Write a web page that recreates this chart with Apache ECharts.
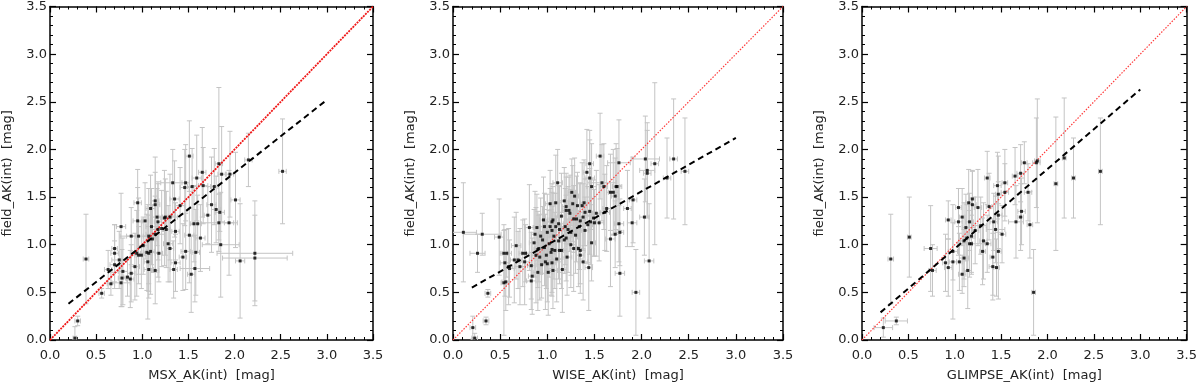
<!DOCTYPE html>
<html>
<head>
<meta charset="utf-8">
<script src="https://cdn.jsdelivr.net/npm/echarts@6/dist/echarts.min.js"></script>
<style>
  html, body { margin: 0; background: #fff; }
  #chart { width: 1200px; height: 387px; }
</style>
</head>
<body>
<div id="chart"></div>
<script>
// each point: [x, y, xErr, yErr]
const msxPoints = [
  [0.39,0.85,0.03,0.47],[0.27,0.02,0.02,0.12],[0.30,0.20,0.03,0.05],[0.56,0.49,0.03,0.05],
  [0.63,0.74,0.04,0.2],[0.66,0.59,0.04,0.12],[0.70,0.79,0.05,0.25],[0.70,0.91,0.04,0.3],
  [0.70,0.96,0.03,0.25],[0.77,1.19,0.05,0.35],[0.75,0.84,0.08,0.3],[0.77,0.60,0.1,0.25],
  [0.78,0.65,0.04,0.3],[0.79,0.72,0.05,0.35],[0.84,0.66,0.04,0.2],[0.88,1.09,0.05,0.3],
  [0.88,0.70,0.04,0.3],[0.92,0.77,0.05,0.35],[0.94,0.91,0.04,0.45],[0.95,1.25,0.05,0.35],
  [0.95,1.44,0.04,0.35],[0.96,1.09,0.2,0.4],[0.96,0.89,0.04,0.3],[1.01,0.99,0.05,0.3],
  [1.03,1.25,0.04,0.4],[1.07,1.09,0.06,0.5],[1.06,0.82,0.04,0.6],[1.07,0.74,0.05,0.3],
  [1.07,0.91,0.04,0.4],[1.09,1.38,0.05,0.35],[1.10,1.19,0.06,0.4],[1.09,0.93,0.04,0.45],
  [1.11,1.06,0.05,0.35],[1.14,1.46,0.04,0.3],[1.14,1.42,0.05,0.5],[1.14,1.11,0.1,0.4],
  [1.14,0.73,0.04,0.35],[1.16,1.29,0.05,0.3],[1.17,1.24,0.04,0.4],[1.17,1.16,0.06,0.5],
  [1.18,0.91,0.04,0.3],[1.21,1.17,0.05,0.4],[1.24,1.28,0.04,0.5],[1.25,1.29,0.07,0.4],
  [1.26,1.16,0.04,0.4],[1.28,1.01,0.05,0.4],[1.30,0.96,0.04,0.35],[1.30,1.29,0.08,0.45],
  [1.33,1.65,0.13,0.35],[1.34,0.74,0.04,0.3],[1.35,1.48,0.05,0.4],[1.36,1.14,0.04,0.3],
  [1.36,0.81,0.05,0.3],[1.41,1.41,0.05,0.4],[1.44,0.87,0.04,0.35],[1.46,1.60,0.05,0.4],
  [1.47,1.65,0.04,0.4],[1.47,0.93,0.05,0.4],[1.51,1.93,0.04,0.37],[1.51,1.10,0.05,0.5],
  [1.53,0.69,0.04,0.4],[1.54,1.61,0.05,0.4],[1.56,1.22,0.04,0.4],[1.57,0.75,0.16,0.35],
  [1.58,0.92,0.04,0.45],[1.59,1.70,0.05,0.45],[1.60,1.22,0.04,0.3],[1.63,1.07,0.05,0.35],
  [1.65,1.76,0.04,0.47],[1.66,1.62,0.05,0.4],[1.71,1.31,0.04,0.3],[1.75,1.42,0.05,0.5],
  [1.78,1.61,0.04,0.4],[1.80,1.37,0.05,0.35],[1.83,1.23,0.2,0.3],[1.83,1.85,0.04,0.8],
  [1.84,1.34,0.05,0.2],[1.85,1.00,0.2,0.55],[1.86,1.74,0.04,0.5],[1.94,1.23,0.05,0.55],
  [1.95,1.74,0.04,0.45],[2.01,1.47,0.05,0.5],[2.06,0.83,0.05,0.6],[2.15,1.89,0.04,0.28],
  [2.22,0.91,0.41,0.55],[2.22,0.86,0.35,0.45],[2.52,1.77,0.04,0.55],[0.87,0.64,0.04,0.3],
  [0.99,0.89,0.05,0.35],[1.05,0.92,0.04,0.4]
];

const wisePoints = [
  [0.11,1.13,0.14,0.52],[0.21,0.13,0.03,0.12],[0.23,0.02,0.03,0.05],[0.26,0.91,0.08,0.2],
  [0.31,1.11,0.2,0.22],[0.35,0.20,0.03,0.04],[0.37,0.49,0.03,0.04],[0.49,1.08,0.05,0.4],
  [0.54,0.91,0.04,0.3],[0.55,0.81,0.05,0.35],[0.54,0.60,0.03,0.55],[0.56,0.61,0.04,0.3],
  [0.57,0.91,0.05,0.25],[0.59,0.77,0.04,0.4],[0.60,0.75,0.05,0.3],[0.65,0.84,0.04,0.45],
  [0.67,0.99,0.05,0.35],[0.69,0.84,0.04,0.3],[0.71,0.77,0.05,0.4],[0.74,0.91,0.04,0.35],
  [0.76,0.82,0.05,0.45],[0.77,0.91,0.04,0.3],[0.81,1.18,0.05,0.45],[0.83,0.78,0.04,0.35],
  [0.83,0.62,0.05,0.3],[0.84,0.67,0.04,0.4],[0.86,1.02,0.05,0.35],[0.87,1.11,0.04,0.45],
  [0.88,0.89,0.05,0.5],[0.89,1.18,0.04,0.35],[0.90,0.71,0.05,0.4],[0.91,0.96,0.04,0.35],
  [0.92,0.87,0.05,0.45],[0.93,1.09,0.04,0.4],[0.94,0.79,0.05,0.35],[0.96,1.26,0.04,0.45],
  [0.97,1.19,0.05,0.35],[0.97,0.97,0.04,0.4],[0.98,0.82,0.05,0.5],[0.99,0.89,0.04,0.35],
  [1.00,1.13,0.05,0.4],[1.01,0.71,0.04,0.45],[1.02,1.01,0.05,0.35],[1.03,1.19,0.04,0.4],
  [1.03,1.43,0.05,0.35],[1.04,0.92,0.04,0.45],[1.05,1.24,0.05,0.4],[1.05,0.81,0.04,0.35],
  [1.06,0.73,0.05,0.4],[1.06,1.26,0.04,0.35],[1.07,1.09,0.05,0.45],[1.08,0.94,0.04,0.4],
  [1.09,1.19,0.05,0.35],[1.09,1.44,0.04,0.5],[1.11,1.65,0.05,0.35],[1.12,1.04,0.04,0.4],
  [1.13,1.16,0.05,0.45],[1.13,0.94,0.04,0.35],[1.15,0.94,0.05,0.4],[1.16,0.74,0.04,0.45],
  [1.18,1.46,0.05,0.35],[1.19,1.19,0.04,0.4],[1.20,1.07,0.05,0.45],[1.20,1.36,0.04,0.35],
  [1.21,0.87,0.05,0.4],[1.22,1.16,0.04,0.45],[1.23,1.36,0.05,0.35],[1.24,1.33,0.04,0.4],
  [1.25,1.13,0.05,0.45],[1.26,1.55,0.04,0.35],[1.27,1.43,0.05,0.4],[1.28,0.96,0.04,0.45],
  [1.28,1.27,0.05,0.35],[1.29,1.51,0.04,0.4],[1.31,1.27,0.05,0.45],[1.32,1.41,0.04,0.35],
  [1.33,0.96,0.05,0.4],[1.34,1.19,0.04,0.45],[1.35,0.94,0.05,0.35],[1.35,0.89,0.04,0.4],
  [1.37,1.41,0.05,0.45],[1.38,1.29,0.04,0.35],[1.38,0.82,0.05,0.4],[1.39,1.44,0.04,0.45],
  [1.40,1.34,0.05,0.35],[1.42,1.76,0.04,0.45],[1.43,1.21,0.05,0.4],[1.44,0.76,0.04,0.45],
  [1.45,1.70,0.05,0.4],[1.45,1.85,0.04,0.35],[1.46,1.24,0.05,0.45],[1.47,1.02,0.04,0.4],
  [1.47,1.61,0.05,0.45],[1.49,1.28,0.04,0.4],[1.50,1.23,0.05,0.35],[1.52,1.33,0.04,0.45],
  [1.55,1.23,0.05,0.4],[1.56,1.93,0.04,0.45],[1.58,1.65,0.15,0.4],[1.60,1.61,0.04,0.45],
  [1.61,1.34,0.05,0.4],[1.63,1.38,0.04,0.45],[1.67,1.06,0.05,0.5],[1.67,1.55,0.04,0.4],
  [1.70,1.55,0.05,0.45],[1.72,1.51,0.04,0.4],[1.72,1.11,0.05,0.35],[1.73,1.61,0.04,0.45],
  [1.74,1.61,0.05,0.4],[1.76,1.86,0.12,0.45],[1.76,1.22,0.05,0.4],[1.77,1.13,0.04,0.35],
  [1.77,0.70,0.05,0.45],[1.85,1.38,0.04,0.4],[1.90,1.23,0.05,0.25],[1.91,1.47,0.04,0.45],
  [1.94,0.50,0.04,0.45],[2.03,1.29,0.05,0.4],[2.04,1.90,0.15,0.45],[2.06,1.78,0.08,0.5],
  [2.06,1.75,0.04,0.45],[2.08,0.83,0.05,0.6],[2.14,1.85,0.04,0.85],[2.27,1.70,0.04,0.42],
  [2.34,1.90,0.04,0.63],[2.46,1.77,0.04,0.56],
  [1.00,0.80,0.05,0.4],[1.05,0.95,0.04,0.45],[1.12,1.22,0.05,0.4],[1.18,1.05,0.04,0.35],
  [1.25,1.00,0.05,0.45],[1.30,1.10,0.04,0.4],[0.95,1.05,0.05,0.35],[1.15,1.30,0.04,0.45],
  [1.35,1.25,0.05,0.4],[1.40,1.15,0.04,0.35],[1.10,0.85,0.05,0.45],[0.90,0.95,0.04,0.4],
  [1.45,1.35,0.05,0.45],[1.20,1.40,0.04,0.35],[1.05,1.15,0.05,0.4]
];

const glimpsePoints = [
  [0.23,0.13,0.1,0.1],[0.31,0.85,0.03,0.47],[0.37,0.20,0.12,0.04],[0.51,1.08,0.02,0.42],
  [0.74,0.96,0.07,0.45],[0.76,0.73,0.04,0.27],[0.90,0.81,0.03,0.3],[0.93,0.76,0.04,0.3],
  [0.93,1.26,0.03,0.2],[0.98,0.82,0.04,0.6],[1.04,1.39,0.03,0.2],[1.04,1.24,0.04,0.35],
  [1.05,0.82,0.03,0.3],[1.08,0.69,0.04,0.2],[1.08,1.29,0.03,0.3],[1.10,1.04,0.04,0.4],
  [1.13,1.07,0.03,0.35],[1.14,0.73,0.04,0.4],[1.15,1.44,0.03,0.35],[1.16,1.24,0.04,0.3],
  [1.16,1.01,0.03,0.35],[1.18,1.09,0.04,0.4],[1.19,1.48,0.03,0.3],[1.19,1.42,0.04,0.35],
  [1.18,1.01,0.15,0.3],[1.25,1.39,0.04,0.4],[1.30,0.93,0.03,0.35],[1.31,1.04,0.04,0.4],
  [1.35,1.70,0.03,0.28],[1.35,1.01,0.04,0.3],[1.37,1.40,0.03,0.35],[1.41,0.77,0.04,0.35],
  [1.41,0.87,0.03,0.4],[1.42,1.24,0.04,0.3],[1.44,1.16,0.1,0.35],[1.45,0.76,0.03,0.3],
  [1.46,1.62,0.04,0.35],[1.47,1.53,0.03,0.4],[1.47,1.31,0.04,0.35],[1.47,0.93,0.03,0.5],
  [1.51,1.11,0.04,0.3],[1.54,1.65,0.03,0.35],[1.54,1.55,0.04,0.3],[1.65,1.72,0.03,0.3],
  [1.66,1.24,0.08,0.38],[1.71,1.75,0.04,0.3],[1.71,1.29,0.03,0.35],[1.72,1.35,0.04,0.35],
  [1.75,1.86,0.03,0.22],[1.79,1.55,0.04,0.3],[1.81,1.21,0.03,0.35],[1.88,1.86,0.04,0.47],
  [1.89,1.88,0.03,0.65],[1.85,0.50,0.02,0.45],[2.09,1.64,0.02,0.7],[2.18,1.91,0.02,0.63],
  [2.28,1.70,0.02,0.42],[2.57,1.77,0.02,0.56],
  [1.10,0.86,0.05,0.3],[1.22,1.15,0.04,0.35],[1.28,1.20,0.06,0.3],[1.12,1.18,0.04,0.35],
  [0.98,0.93,0.05,0.3]
];

// fitted lines, two end points each
const msxFit = [[0.2, 0.38], [3.0, 2.52]];
const wiseFit = [[0.2, 0.55], [3.0, 2.12]];
const glimpseFit = [[0.2, 0.29], [3.0, 2.63]];
const oneToOne = [[0, 0], [3.5, 3.5]];

const xNames = ['MSX_AK(int)  [mag]', 'WISE_AK(int)  [mag]', 'GLIMPSE_AK(int)  [mag]'];
const yName = 'field_AK(int)  [mag]';

const panels = [
  { points: msxPoints, fit: msxFit, left: 45, width: 328, red: { color: '#f01818', width: 1.8, type: [2, 1] } },
  { points: wisePoints, fit: wiseFit, left: 453, width: 330, red: { color: '#ff3a3a', width: 1.2, type: [1.5, 1.5] } },
  { points: glimpsePoints, fit: glimpseFit, left: 862, width: 329, red: { color: '#ff3a3a', width: 1.2, type: [1.5, 1.5] } },
];

const font = 'DejaVu Sans';

function errorBars(params, api) {
  const x = api.value(0), y = api.value(1), ex = api.value(2), ey = api.value(3);
  const c = api.coord([x, y]);
  const top = api.coord([x, y + ey]);
  const bot = api.coord([x, y - ey]);
  const lft = api.coord([x - ex, y]);
  const rgt = api.coord([x + ex, y]);
  const cap = 2.5;
  const style = { stroke: '#c4c4c4', lineWidth: 1 };
  const line = (x1, y1, x2, y2) => ({ type: 'line', shape: { x1, y1, x2, y2 }, style });
  return {
    type: 'group',
    children: [
      line(c[0], top[1], c[0], bot[1]),
      line(c[0] - cap, top[1], c[0] + cap, top[1]),
      line(c[0] - cap, bot[1], c[0] + cap, bot[1]),
      line(lft[0], c[1], rgt[0], c[1]),
      line(lft[0], c[1] - cap, lft[0], c[1] + cap),
      line(rgt[0], c[1] - cap, rgt[0], c[1] + cap),
    ],
  };
}

function axis(extra) {
  return Object.assign({
    type: 'value',
    min: 0,
    max: 3.5,
    interval: 0.5,
    axisLine: { show: true, onZero: false, lineStyle: { color: '#000', width: 1.5 } },
    axisTick: { show: true, inside: true, length: 6, lineStyle: { color: '#000', width: 1.2 } },
    minorTick: { show: true, splitNumber: 5, length: 3, lineStyle: { color: '#000', width: 1 } },
    splitLine: { show: false },
    axisLabel: { show: false },
  }, extra);
}

const label = (margin) => ({
  show: true,
  margin,
  fontSize: 13,
  color: '#222',
  fontFamily: font,
  showMinLabel: true,
  showMaxLabel: true,
  formatter: (v) => v.toFixed(1),
});

const grid = [], xAxis = [], yAxis = [], series = [];

panels.forEach((p, i) => {
  grid.push({ left: p.left, width: p.width, top: 1, height: 347 });
  xAxis.push(axis({
    gridIndex: i, position: 'bottom', axisLabel: label(9),
    name: xNames[i], nameLocation: 'middle', nameGap: 29,
    nameTextStyle: { fontSize: 13, color: '#222', fontFamily: font },
  }));
  xAxis.push(axis({ gridIndex: i, position: 'top' }));
  yAxis.push(axis({
    gridIndex: i, position: 'left', axisLabel: label(3),
    name: yName, nameLocation: 'middle', nameGap: 36,
    nameTextStyle: { fontSize: 13, color: '#222', fontFamily: font },
  }));
  yAxis.push(axis({ gridIndex: i, position: 'right' }));

  series.push({
    type: 'custom',
    xAxisIndex: 2 * i, yAxisIndex: 2 * i,
    renderItem: errorBars,
    clip: true,
    silent: true,
    data: p.points,
    z: 1,
  });
  series.push({
    type: 'line',
    xAxisIndex: 2 * i, yAxisIndex: 2 * i,
    data: oneToOne,
    symbol: 'none',
    silent: true,
    lineStyle: p.red,
    z: 2,
  });
  series.push({
    type: 'scatter',
    xAxisIndex: 2 * i, yAxisIndex: 2 * i,
    data: p.points.map((d) => [d[0], d[1]]),
    symbol: 'rect',
    symbolSize: 3,
    itemStyle: { color: '#000' },
    silent: true,
    z: 3,
  });
  series.push({
    type: 'line',
    xAxisIndex: 2 * i, yAxisIndex: 2 * i,
    data: p.fit,
    symbol: 'none',
    silent: true,
    lineStyle: { color: '#000', width: 2, type: [6, 4] },
    z: 4,
  });
});

const chart = echarts.init(document.getElementById('chart'));
chart.setOption({ animation: false, grid, xAxis, yAxis, series });
</script>
</body>
</html>
